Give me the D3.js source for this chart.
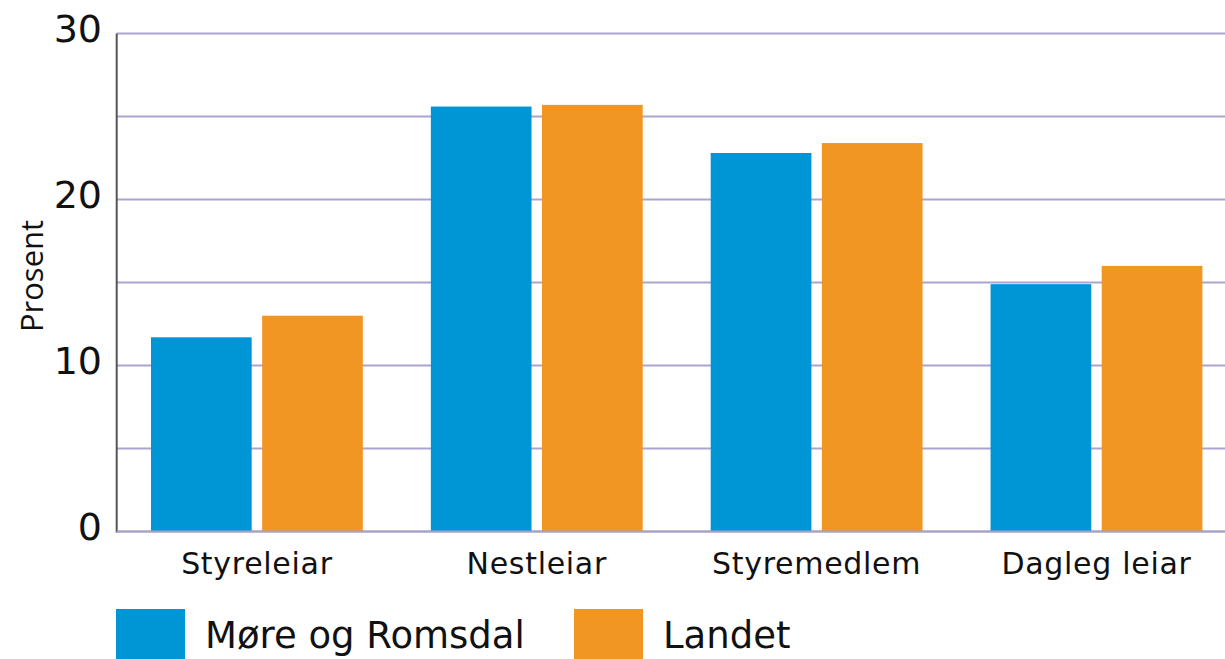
<!DOCTYPE html>
<html>
<head>
<meta charset="utf-8">
<script src="https://cdn.jsdelivr.net/npm/d3@7"></script>
<style>
  html, body { margin: 0; padding: 0; background: #fff; }
  svg { display: block; }
</style>
</head>
<body>
<svg id="chart" width="1225" height="659"></svg>
<script>
const categories = ["Styreleiar", "Nestleiar", "Styremedlem", "Dagleg leiar"];
const seriesNames = ["Møre og Romsdal", "Landet"];
const moreRomsdal = [11.7, 25.6, 22.8, 14.9];
const landet = [13.0, 25.7, 23.4, 16.0];
const tickLabels = [0, 10, 20, 30];
const gridValues = [0, 5, 10, 15, 20, 25, 30];
const colors = ["#0096D6", "#F29623"];

const svg = d3.select("#chart");
const W = 1225;
const x0 = 116.7, yTop = 33.5, yBottom = 531.5;

const y = d3.scaleLinear().domain([0, 30]).range([yBottom, yTop]);
const x = d3.scaleBand().domain(categories).range([x0, x0 + 1120])
  .paddingInner(0.243).paddingOuter(0.1225);
const xs = d3.scaleBand().domain(seriesNames).range([0, x.bandwidth()]).paddingInner(0.094);

// grid lines
svg.append("g").selectAll("line").data(gridValues).join("line")
  .attr("x1", x0).attr("x2", W)
  .attr("y1", d => y(d)).attr("y2", d => y(d))
  .attr("stroke", "#ABA3D0").attr("stroke-width", 2);

// bars
const rows = categories.map((c, i) => ({ cat: c, vals: [moreRomsdal[i], landet[i]] }));
const g = svg.append("g").selectAll("g").data(rows).join("g")
  .attr("transform", d => `translate(${x(d.cat)},0)`);
g.selectAll("rect").data(d => d.vals.map((v, j) => ({ name: seriesNames[j], v, j })))
  .join("rect")
  .attr("x", d => xs(d.name))
  .attr("width", xs.bandwidth())
  .attr("y", d => y(d.v))
  .attr("height", d => y(0) - y(d.v))
  .attr("fill", d => colors[d.j]);

// y axis line
svg.append("line").attr("x1", x0).attr("x2", x0).attr("y1", yTop).attr("y2", yBottom + 1)
  .attr("stroke", "#555").attr("stroke-width", 2);
// bottom axis line
svg.append("line").attr("x1", x0).attr("x2", W).attr("y1", yBottom).attr("y2", yBottom)
  .attr("stroke", "#A8A2C4").attr("stroke-width", 2);

// y tick labels
svg.append("g").selectAll("text").data(tickLabels).join("text")
  .attr("x", 102).attr("y", d => y(d) + 8)
  .attr("text-anchor", "end")
  .attr("font-family", "DejaVu Sans")
  .attr("font-size", 38)
  .attr("fill", "#111")
  .text(d => d);

// category labels
svg.append("g").selectAll("text").data(categories).join("text")
  .attr("x", d => x(d) + x.bandwidth() / 2)
  .attr("y", 574)
  .attr("text-anchor", "middle")
  .attr("font-family", "DejaVu Sans")
  .attr("font-size", 30)
  .attr("letter-spacing", 0.7)
  .attr("fill", "#111")
  .text(d => d);

// y axis title
svg.append("text")
  .attr("transform", "translate(43,276) rotate(-90)")
  .attr("text-anchor", "middle")
  .attr("font-family", "Open Sans")
  .attr("font-size", 31)
  .attr("fill", "#111")
  .text("Prosent");

// legend
const legendX = [116, 574];
const lg = svg.append("g").selectAll("g").data(seriesNames).join("g")
  .attr("transform", (d, i) => `translate(${legendX[i]},609)`);
lg.append("rect").attr("width", 69).attr("height", 50).attr("fill", (d, i) => colors[i]);
lg.append("text").attr("x", 89).attr("y", 39)
  .attr("font-family", "DejaVu Sans").attr("font-size", 37).attr("fill", "#111")
  .text(d => d);
</script>
</body>
</html>
